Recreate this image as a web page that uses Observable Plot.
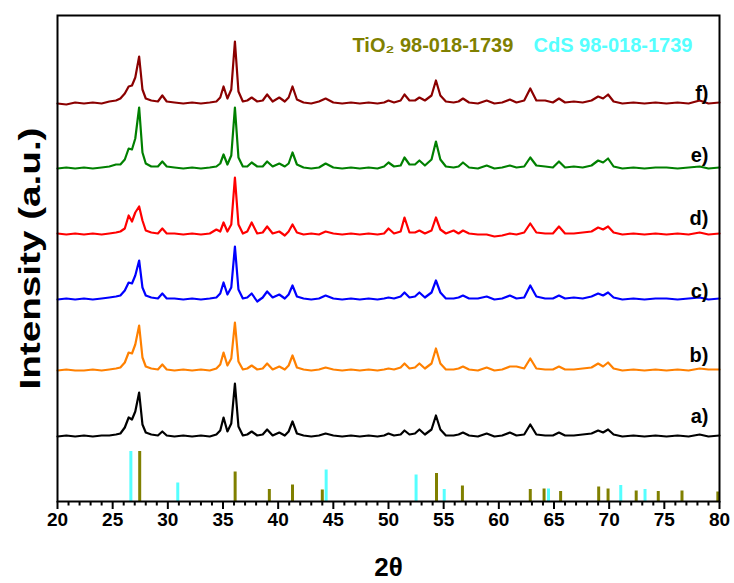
<!DOCTYPE html>
<html><head><meta charset="utf-8">
<script src="https://cdn.jsdelivr.net/npm/d3@7"></script>
<script src="https://cdn.jsdelivr.net/npm/@observablehq/plot@0.6"></script>
<style>body{margin:0;background:#fff}</style>
</head><body><div id="chart"></div>
<script>
// 2-theta sampling positions shared by all patterns
const theta = [20.0,20.8,21.6,22.4,23.2,24.0,24.7,25.3,25.7,26.1,
 26.45,26.75,27.05,27.4,27.7,28.0,28.5,29.1,29.5,29.9,
 30.6,31.4,32.2,33.0,33.8,34.4,34.75,35.05,35.4,35.75,
 36.08,36.4,36.8,37.2,37.6,38.1,38.6,39.0,39.5,40.1,
 40.6,40.95,41.3,41.7,42.3,43.0,43.7,44.3,45.0,45.8,
 46.6,47.4,48.2,49.0,49.6,50.0,50.5,51.1,51.45,51.9,
 52.4,52.8,53.3,53.9,54.3,54.7,55.2,55.9,56.35,56.75,
 57.3,58.1,58.9,59.6,60.3,61.0,61.6,62.3,62.85,63.4,
 64.2,64.9,65.45,66.0,66.8,67.6,68.4,69.0,69.45,69.9,
 70.4,71.2,72.2,73.2,74.2,75.2,76.2,77.2,78.2,79.0,
 80.0];

// intensities above each pattern's own baseline (a.u.)
const intA = [0,1,0,1,0,1,1,2,3,9, 19,17,25,44,12,4,2,1,5,1, 0,1,0,1,0,2,6,19,5,13, 53,10,1,2,5,1,2,7,1,4,
 1,5,15,3,1,0,1,3,1,0, 1,0,1,0,1,3,1,2,6,2, 3,7,2,7,21,7,1,1,2,4, 1,0,3,0,1,4,1,2,12,2,
 1,1,4,1,1,2,3,6,4,7, 2,0,1,0,1,0,1,0,2,0, 1];
const intB = [0,1,0,0,1,0,1,2,3,8, 18,17,26,45,13,4,2,1,6,1, 0,1,0,1,0,2,6,18,5,12, 48,9,1,2,5,1,2,7,1,4,
 1,5,15,3,1,0,1,3,1,0, 1,0,1,0,1,2,1,3,7,2, 3,7,2,7,22,7,1,1,2,4, 1,0,3,0,1,4,4,2,12,2,
 1,1,4,1,1,2,3,7,4,8, 2,0,1,0,1,0,1,0,2,1, 1];
const intC = [0,1,0,1,0,1,2,3,4,9, 17,16,24,39,12,4,2,1,6,1, 1,0,1,0,1,2,6,17,5,12, 53,10,1,2,6,-2,2,8,2,5,
 1,5,14,3,1,0,1,4,1,0, 1,0,1,0,1,2,1,3,7,2, 3,7,2,7,19,7,1,1,2,4, 1,1,3,0,1,4,1,2,14,3,
 1,1,4,1,2,1,3,6,4,7, 2,0,1,0,1,1,0,1,2,0, 1];
const intD = [1,0,1,0,1,0,1,2,3,6, 19,13,22,28,14,4,2,1,6,1, 1,0,1,0,1,5,3,12,3,10, 57,10,1,3,12,1,2,8,1,3,
 -1,3,10,2,0,1,0,3,1,0, 1,0,1,0,1,6,1,3,17,2, 2,4,1,4,17,5,1,4,1,4, 1,0,0,-2,-1,1,0,2,11,2,
 1,1,8,1,1,2,3,7,5,8, 2,0,1,0,1,0,1,0,2,0, 1];
const intE = [0,1,0,1,0,1,2,4,4,9, 20,19,30,61,16,5,2,2,7,2, 1,0,1,0,1,2,5,14,4,13, 61,11,2,2,6,2,2,7,2,5,
 2,5,16,4,1,0,1,5,1,0, 1,0,1,0,2,6,2,3,11,4, 4,8,3,9,27,9,2,1,2,6, 1,0,3,0,1,3,1,2,11,3,
 2,1,7,1,2,1,3,8,6,10, 2,0,1,0,1,1,0,1,2,0, 1];
const intF = [0,-1,1,0,1,0,2,3,5,10, 17,18,26,47,14,5,3,2,8,2, 1,0,1,0,1,2,6,17,5,14, 62,12,2,3,6,2,3,9,2,6,
 2,6,17,4,1,0,2,5,1,0, 1,0,1,0,1,3,1,3,9,3, 3,6,3,8,23,8,2,1,2,5, 1,0,3,0,1,4,1,3,15,3,
 3,1,5,1,2,1,3,7,5,9, 2,0,1,0,1,0,1,0,3,0, 1];

const seriesNames = ["a)", "b)", "c)", "d)", "e)", "f)"];
const seriesValues = [intA, intB, intC, intD, intE, intF];

// reference patterns (position 2θ, relative intensity %)
const tio2Pos = [27.45, 36.1, 39.2, 41.3, 44.0, 54.35, 56.7, 62.85, 64.1, 65.6, 69.05, 69.9, 72.45, 74.45, 76.6, 79.85];
const tio2Int = [100, 59, 24, 33, 23, 56, 31, 24, 25, 20, 29, 25, 21, 20, 21, 19];
const cdsPos = [26.65, 30.9, 44.35, 52.5, 55.05, 64.5, 71.05, 73.25];
const cdsInt = [100, 37, 63, 53, 24, 25, 32, 24];

const xTicks = [20, 25, 30, 35, 40, 45, 50, 55, 60, 65, 70, 75, 80];

// ---- layout / style ----
const colors = ["#000000", "#ff8000", "#0000ff", "#ff0000", "#008000", "#8b0000"];
const offsets = [65, 131, 202, 267, 333, 398];
const labelLift = [20, 15, 8, 16, 13, 10];
const stickScale = 0.5;
const olive = "#808000", cyan = "#55ffff";

const rows = [];
seriesNames.forEach((s, i) => theta.forEach((t, j) => rows.push({s, t, y: offsets[i] + seriesValues[i][j]})));
const labels = seriesNames.map((s, i) => ({s, x: 80, y: offsets[i] + labelLift[i]}));
const tio2 = tio2Pos.map((p, i) => ({p, v: tio2Int[i] * stickScale}));
const cds = cdsPos.map((p, i) => ({p, v: cdsInt[i] * stickScale}));
const minor = d3.range(20, 81, 1).filter(v => v % 5 !== 0);

const font = "Liberation Sans, Arial, Helvetica, sans-serif";
const chart = Plot.plot({
  width: 734, height: 583,
  marginLeft: 57, marginRight: 15, marginTop: 15, marginBottom: 82,
  style: {fontFamily: font, background: "#fff"},
  x: {domain: [20, 80]},
  y: {domain: [0, 486], axis: null},
  marks: [
    Plot.ruleX(cds, {x: "p", y1: 0, y2: "v", stroke: cyan, strokeWidth: 3}),
    Plot.ruleX(tio2, {x: "p", y1: 0, y2: "v", stroke: olive, strokeWidth: 3}),
    ...seriesNames.map((s, i) => Plot.lineY(rows.filter(r => r.s === s), {x: "t", y: "y", stroke: colors[i], strokeWidth: 2.2, curve: "linear"})),
    Plot.text(labels, {x: "x", y: "y", text: "s", textAnchor: "end", dx: -11, fontSize: 20, fontWeight: "bold", fill: "#000"}),
    Plot.text(["TiO₂ 98-018-1739"], {frameAnchor: "top-left", dx: 295, dy: 22, textAnchor: "start", fontSize: 20, fontWeight: "bold", fill: olive}),
    Plot.text(["CdS 98-018-1739"], {frameAnchor: "top-left", dx: 476, dy: 22, textAnchor: "start", fontSize: 20, fontWeight: "bold", fill: cyan}),
    Plot.frame({stroke: "#000", strokeWidth: 2}),
    Plot.axisX(minor, {tickSize: 4.5, strokeWidth: 2, text: null, label: null}),
    Plot.axisX(xTicks, {tickSize: 8, tickPadding: 3, strokeWidth: 2, fontSize: 19, fontWeight: "bold", fill: "#000", label: null}),
    Plot.text(["2θ"], {frameAnchor: "bottom", lineAnchor: "middle", dy: 66, fontSize: 26, fontWeight: "bold", fill: "#000"}),
    Plot.text(["Intensity (a.u.)"], {frameAnchor: "left", textAnchor: "middle", lineAnchor: "middle", dx: -27, rotate: -90, fontSize: 29, fontWeight: "bold", fill: "#000", className: "ylab"})
  ]
});
document.getElementById("chart").appendChild(chart);
// the reference's rotated axis title is drawn elongated along its length
d3.select(chart).selectAll(".ylab text").attr("textLength", 262).attr("lengthAdjust", "spacingAndGlyphs");
</script></body></html>
